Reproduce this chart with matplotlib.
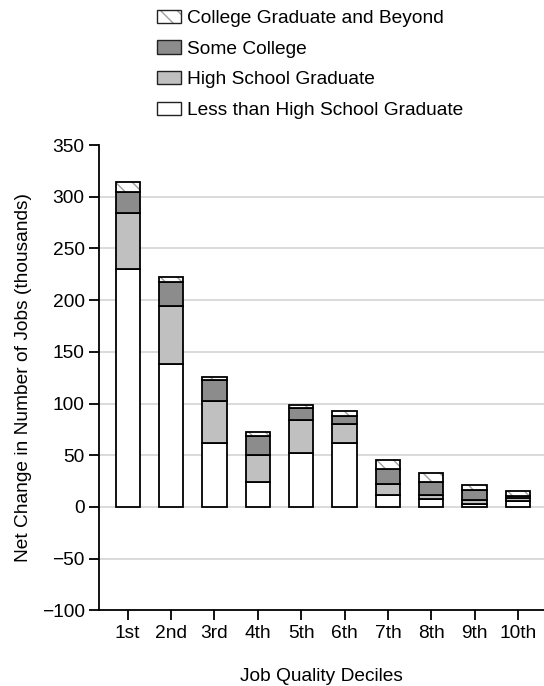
import matplotlib
matplotlib.use("Agg")
import matplotlib.pyplot as plt
from matplotlib.patches import Patch
from matplotlib.legend_handler import HandlerTuple
import numpy as np

plt.rcParams['font.family'] = ['Liberation Sans', 'DejaVu Sans']
plt.rcParams['hatch.linewidth'] = 1.0

deciles = ["1st", "2nd", "3rd", "4th", "5th", "6th", "7th", "8th", "9th", "10th"]
less_than_hs = [230, 138.5, 62, 24, 52, 61.5, 12, 8, 3, 6]
hs_graduate = [54.5, 55.5, 40, 26, 32.5, 18.5, 10.5, 4, 4, 2.3]
some_college = [20.5, 23.7, 20.3, 19, 11, 8, 14.2, 12.4, 9, 1.9]
college_plus = [9, 5, 3.7, 3, 3.2, 4.5, 8.3, 8, 5.5, 4.8]
y_ticks = [-100, -50, 0, 50, 100, 150, 200, 250, 300, 350]

FS = 13.8
HATCH_GRAY = "#a0a0a0"
fig = plt.figure(figsize=(5.44, 6.86), dpi=100)
ax = fig.add_axes([0.1825, 0.1103, 0.8175, 0.6783])

x = np.arange(len(deciles))
w = 0.56
edge = dict(edgecolor="black", linewidth=1.3)

b1 = np.array(less_than_hs)
b2 = b1 + np.array(hs_graduate)
b3 = b2 + np.array(some_college)

ax.bar(x, less_than_hs, w, color="white", zorder=3, **edge)
ax.bar(x, hs_graduate, w, bottom=b1, color="#c0c0c0", zorder=3, **edge)
ax.bar(x, some_college, w, bottom=b2, color="#8c8c8c", zorder=3, **edge)
# hatched top segment: light hatch underneath, black outline on top
ax.bar(x, college_plus, w, bottom=b3, color="white", edgecolor=HATCH_GRAY,
       hatch="\\\\", linewidth=0, zorder=3)
ax.bar(x, college_plus, w, bottom=b3, fill=False, zorder=4, **edge)

ax.set_xlim(-0.655, 9.6)
ax.set_ylim(-100, 350)
ax.set_yticks(y_ticks)
ax.set_xticks(x)
ax.set_xticklabels(deciles)
for v in y_ticks[1:-1]:
    ax.axhline(v, color="#d8d8d8", linewidth=1.3, zorder=1)

for s in ["top", "right"]:
    ax.spines[s].set_visible(False)
for s in ["left", "bottom"]:
    ax.spines[s].set_linewidth(1.3)
ax.tick_params(axis="both", direction="out", length=7.5, width=1.3,
               labelsize=FS, pad=3)

ax.set_ylabel("Net Change in Number of Jobs (thousands)", fontsize=FS, labelpad=7)
ax.set_xlabel("Job Quality Deciles", fontsize=FS, labelpad=19)

hatch_key = (Patch(facecolor="white", edgecolor=HATCH_GRAY, hatch="\\\\", linewidth=0),
             Patch(fill=False, edgecolor="#222222", linewidth=1.0))
handles = [
    hatch_key,
    Patch(facecolor="#8c8c8c", edgecolor="#222222", linewidth=1.0),
    Patch(facecolor="#c0c0c0", edgecolor="#222222", linewidth=1.0),
    Patch(facecolor="white", edgecolor="#222222", linewidth=1.0),
]
labels = ["College Graduate and Beyond", "Some College",
          "High School Graduate", "Less than High School Graduate"]
fig.legend(handles, labels, loc="upper left", bbox_to_anchor=(0.275, 0.997),
           frameon=False, fontsize=FS, handlelength=1.25, handleheight=0.68,
           handletextpad=0.3, labelspacing=0.7, borderaxespad=0.0,
           handler_map={tuple: HandlerTuple(ndivide=1, pad=0)})

fig.savefig("out.png", dpi=100)
